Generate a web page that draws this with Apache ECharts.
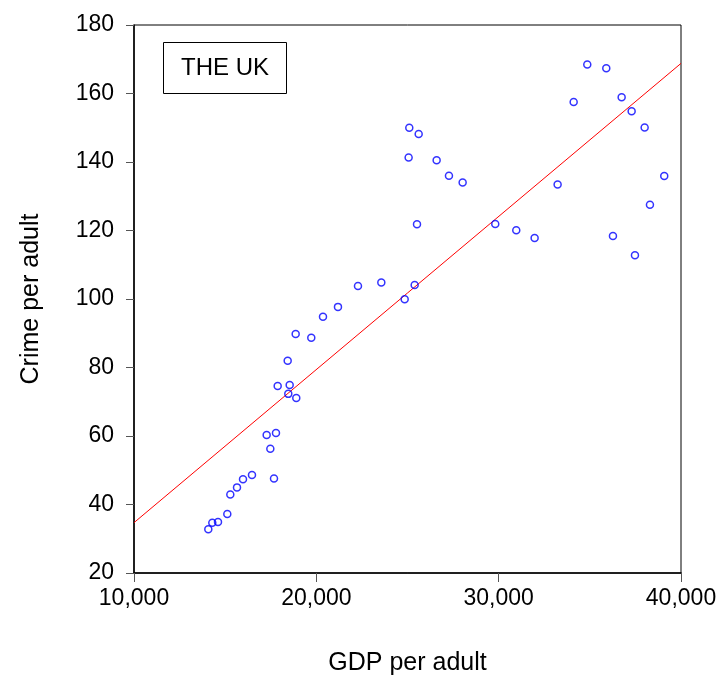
<!DOCTYPE html>
<html>
<head>
<meta charset="utf-8">
<script src="https://cdn.jsdelivr.net/npm/echarts@6/dist/echarts.min.js"></script>
<style>
html,body{margin:0;padding:0;background:#fff;}
#chart{width:727px;height:682px;}
</style>
</head>
<body>
<div id="chart"></div>
<script>
// GDP per adult (x) and crime per adult (y)
const gdp = [14075, 14294, 14607, 15117, 15282, 15649, 15978, 16471, 17678, 17477,
  17276, 17787, 17880, 18538, 18462, 18900, 18429, 18867, 19723, 20365,
  21187, 22284, 23564, 24845, 25393, 25521, 25062, 25098, 25613, 26598,
  27274, 28024, 29813, 30965, 31972, 33233, 34113, 34860, 35902, 36745,
  37293, 38006, 36268, 37475, 38297, 39081];
const crime = [32.8, 34.7, 34.9, 37.2, 42.9, 45.0, 47.4, 48.6, 47.6, 56.3,
  60.3, 60.9, 74.6, 74.9, 72.3, 71.1, 82.0, 89.8, 88.7, 94.8,
  97.7, 103.8, 104.8, 99.9, 104.1, 121.8, 141.3, 150.0, 148.2, 140.5,
  136.0, 134.0, 121.9, 120.1, 117.8, 133.4, 157.5, 168.5, 167.4, 158.9,
  154.8, 150.1, 118.4, 112.8, 127.5, 135.9];
const xTicks = [10000, 20000, 30000, 40000];
const yTicks = [20, 40, 60, 80, 100, 120, 140, 160, 180];
const countryLabel = 'THE UK';
const xName = 'GDP per adult';
const yName = 'Crime per adult';

// least-squares fit line
const n = gdp.length;
const mx = gdp.reduce((a, b) => a + b, 0) / n;
const my = crime.reduce((a, b) => a + b, 0) / n;
let sxy = 0, sxx = 0;
for (let i = 0; i < n; i++) { sxy += (gdp[i] - mx) * (crime[i] - my); sxx += (gdp[i] - mx) ** 2; }
const slope = sxy / sxx, icpt = my - slope * mx;
const xMin = xTicks[0], xMax = xTicks[xTicks.length - 1];
const fitLine = [[xMin, icpt + slope * xMin], [xMax, icpt + slope * xMax]];

const FONT = 'Liberation Sans, Arial, Helvetica, sans-serif';
const chart = echarts.init(document.getElementById('chart'));
chart.setOption({
  animation: false,
  backgroundColor: '#fff',
  textStyle: { fontFamily: FONT },
  title: {
    text: countryLabel,
    left: 163, top: 42,
    padding: [14, 18],
    borderWidth: 1, borderColor: '#000',
    textStyle: { fontSize: 24, fontWeight: 'normal', color: '#000', fontFamily: FONT }
  },
  grid: {
    left: 134, right: 46, top: 25, bottom: 109,
    show: true, borderColor: '#000', borderWidth: 1, backgroundColor: 'transparent'
  },
  xAxis: {
    type: 'value', min: xMin, max: xMax, interval: 10000,
    name: xName, nameLocation: 'middle', nameGap: 78,
    nameTextStyle: { fontSize: 25, color: '#000', fontFamily: FONT },
    axisLine: { show: true, lineStyle: { color: '#000', width: 1.5 } },
    axisTick: { show: true, length: 9, lineStyle: { color: '#555' } },
    axisLabel: { fontSize: 23, color: '#000', margin: 14, fontFamily: FONT,
      formatter: v => v.toLocaleString('en-US') },
    splitLine: { show: false }
  },
  yAxis: {
    type: 'value', min: yTicks[0], max: yTicks[yTicks.length - 1], interval: 20,
    name: yName, nameLocation: 'middle', nameGap: 90, nameRotate: 90,
    nameTextStyle: { fontSize: 25, color: '#000', fontFamily: FONT },
    axisLine: { show: true, lineStyle: { color: '#000', width: 1.5 } },
    axisTick: { show: true, length: 8, lineStyle: { color: '#555' } },
    axisLabel: { fontSize: 23, color: '#000', margin: 20, fontFamily: FONT },
    splitLine: { show: false }
  },
  series: [
    {
      type: 'line', data: fitLine, symbol: 'none', silent: true,
      lineStyle: { color: '#ff0000', width: 1 }, z: 2
    },
    {
      type: 'scatter', data: gdp.map((g, i) => [g, crime[i]]),
      symbol: 'circle', symbolSize: 7,
      itemStyle: { color: 'rgba(0,0,0,0)', borderColor: '#0000ff', borderWidth: 1.5 },
      z: 3
    }
  ]
});
</script>
</body>
</html>
